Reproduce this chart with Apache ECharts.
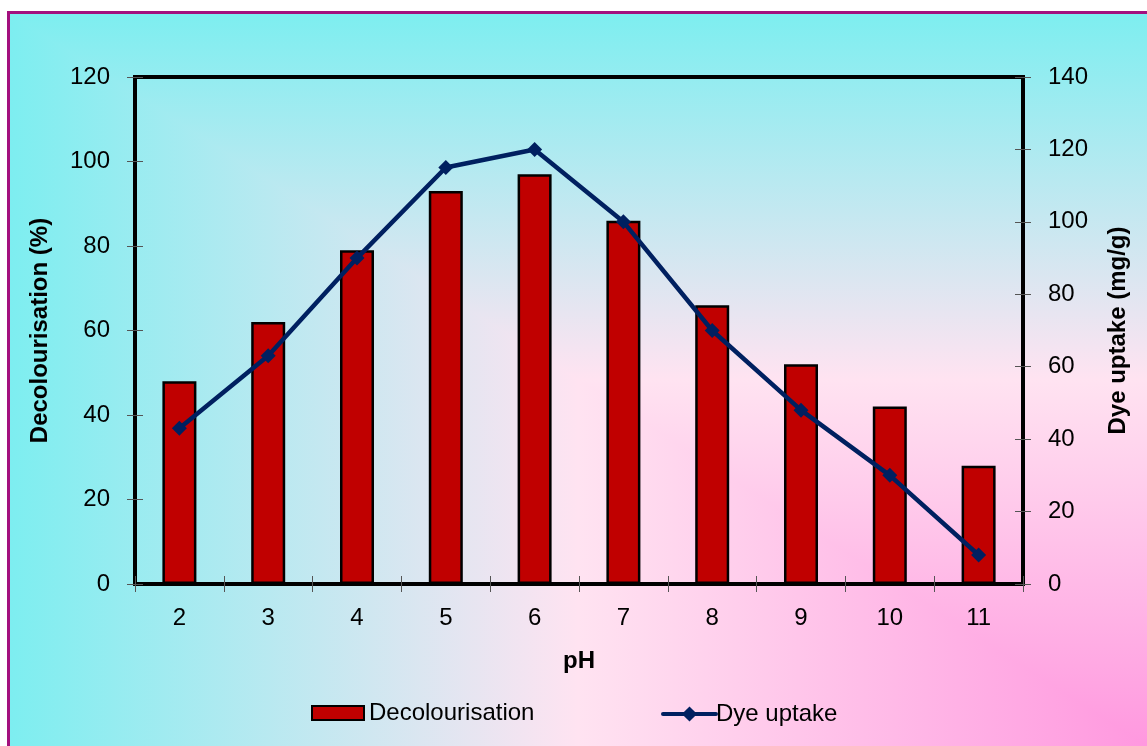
<!DOCTYPE html>
<html>
<head>
<meta charset="utf-8">
<script src="https://cdn.jsdelivr.net/npm/echarts@6/dist/echarts.min.js"></script>
<style>
  html, body { margin: 0; padding: 0; background: #fff; }
  #chart { width: 1147px; height: 746px; }
</style>
</head>
<body>
<div id="chart"></div>
<script>
// pH values on the category axis
const phLabels = ['2', '3', '4', '5', '6', '7', '8', '9', '10', '11'];
// Decolourisation (%) — bars, left axis
const decolourisation = [48, 62, 79, 93, 97, 86, 66, 52, 42, 28];
// Dye uptake (mg/g) — line, right axis
const dyeUptake = [43, 63, 90, 115, 120, 100, 70, 48, 30, 8];

const FONT = '"Liberation Sans", Arial, sans-serif';
const W = 1147, H = 746;
const NAVY = '#002060';

const chart = echarts.init(document.getElementById('chart'), null, { renderer: 'canvas' });

// "from corner" two-tone fill: colour depends on min(x, y) measured from the top-left
const stops = [
  { offset: 0, color: '#7DEEF0' },
  { offset: 0.5, color: '#FFE3F1' },
  { offset: 1, color: '#FF98DF' }
];
const x0 = 9, y0 = 13;

const tickStyle = { color: '#555', width: 1 };

chart.setOption({
  backgroundColor: '#ffffff',
  animation: false,
  textStyle: { fontFamily: FONT, color: '#000' },
  graphic: [
    {
      type: 'rect', z: -20, silent: true,
      shape: { x: x0, y: y0, width: W - x0, height: H - y0 },
      style: { fill: new echarts.graphic.LinearGradient(0, 0, 0, 1, stops) }
    },
    {
      type: 'polygon', z: -19, silent: true,
      shape: { points: [[x0, y0], [x0, H], [W, H]] },
      style: { fill: new echarts.graphic.LinearGradient(0, 0, 1, 0, stops) }
    },
    {
      type: 'rect', z: -18, silent: true,
      shape: { x: 8.5, y: 12.5, width: 1300, height: 900 },
      style: { fill: null, stroke: '#A3107E', lineWidth: 3 }
    }
  ],
  grid: {
    left: 135, right: 124, top: 77, bottom: 162,
    show: true, borderColor: '#000', borderWidth: 4,
    backgroundColor: 'transparent',
    outerBoundsMode: 'none'
  },
  legend: [
    {
      left: 311, top: 701, padding: 0,
      itemWidth: 52, itemHeight: 14,
      textStyle: { fontFamily: FONT, fontSize: 24, color: '#000' },
      data: [{ name: 'Decolourisation', icon: 'rect' }]
    },
    {
      left: 661, top: 702, padding: 0,
      itemWidth: 53, itemHeight: 19,
      textStyle: { fontFamily: FONT, fontSize: 24, color: '#000', padding: [0, 0, 0, -5] },
      lineStyle: { width: 4, color: NAVY, cap: 'round' },
      data: ['Dye uptake']
    }
  ],
  xAxis: [
    {
      type: 'category', data: phLabels, position: 'bottom',
      name: 'pH', nameLocation: 'middle', nameGap: 65,
      nameTextStyle: { fontFamily: FONT, fontSize: 24, fontWeight: 'bold', color: '#000' },
      boundaryGap: true,
      axisLine: { show: true, lineStyle: { color: '#000', width: 4 } },
      axisTick: { show: true, length: 8, lineStyle: tickStyle },
      axisLabel: { fontFamily: FONT, fontSize: 24, color: '#000', margin: 22 },
      splitLine: { show: false }
    },
    {
      type: 'category', data: phLabels, position: 'bottom',
      boundaryGap: true,
      axisLine: { show: false },
      axisTick: { show: true, inside: true, length: 8, lineStyle: tickStyle },
      axisLabel: { show: false },
      splitLine: { show: false }
    }
  ],
  yAxis: [
    {
      type: 'value', position: 'left', min: 0, max: 120, interval: 20,
      name: 'Decolourisation (%)', nameLocation: 'middle', nameGap: 83, nameRotate: 90,
      nameTextStyle: { fontFamily: FONT, fontSize: 24, fontWeight: 'bold', color: '#000' },
      axisLine: { show: true, lineStyle: { color: '#000', width: 4 } },
      axisTick: { show: true, length: 8, lineStyle: tickStyle },
      axisLabel: { fontFamily: FONT, fontSize: 24, color: '#000', margin: 25 },
      splitLine: { show: false }
    },
    {
      type: 'value', position: 'right', min: 0, max: 140, interval: 20,
      name: 'Dye uptake (mg/g)', nameLocation: 'middle', nameGap: 83, nameRotate: 90,
      nameTextStyle: { fontFamily: FONT, fontSize: 24, fontWeight: 'bold', color: '#000' },
      axisLine: { show: true, lineStyle: { color: '#000', width: 4 } },
      axisTick: { show: true, length: 8, lineStyle: tickStyle },
      axisLabel: { fontFamily: FONT, fontSize: 24, color: '#000', margin: 25 },
      splitLine: { show: false }
    },
    {
      type: 'value', position: 'left', min: 0, max: 120, interval: 20,
      axisLine: { show: false },
      axisTick: { show: true, inside: true, length: 8, lineStyle: tickStyle },
      axisLabel: { show: false },
      splitLine: { show: false }
    },
    {
      type: 'value', position: 'right', min: 0, max: 140, interval: 20,
      axisLine: { show: false },
      axisTick: { show: true, inside: true, length: 8, lineStyle: tickStyle },
      axisLabel: { show: false },
      splitLine: { show: false }
    }
  ],
  series: [
    {
      name: 'Decolourisation', type: 'bar',
      xAxisIndex: 0, yAxisIndex: 0,
      data: decolourisation,
      barWidth: 34,
      itemStyle: { color: '#C00000', borderColor: '#000', borderWidth: 2.5 }
    },
    {
      name: 'Dye uptake', type: 'line',
      xAxisIndex: 0, yAxisIndex: 1,
      data: dyeUptake,
      symbol: 'diamond', symbolSize: 15,
      lineStyle: { color: NAVY, width: 4.5 },
      itemStyle: { color: NAVY },
      z: 5
    }
  ]
});
</script>
</body>
</html>
